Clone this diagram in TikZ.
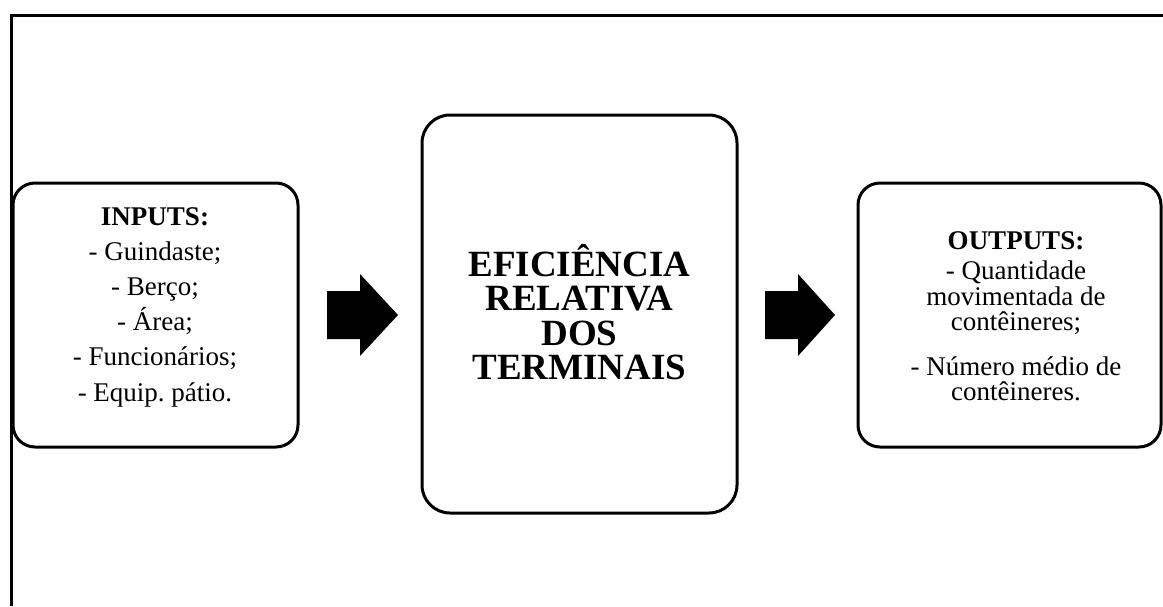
\documentclass[tikz,border=0pt]{standalone}
\usepackage{fontspec}
\setmainfont{Liberation Serif}
\frenchspacing
\begin{document}
\begin{tikzpicture}[x=1pt,y=-1pt,
  box/.style={draw,line width=3pt,rounded corners=22pt,inner sep=0pt},
  bigbox/.style={box,rounded corners=28pt},
  blockarrow/.style={fill=black},
  txt/.style={align=center,inner sep=0pt,font=\fontsize{27}{35.2}\selectfont},
  outtxt/.style={align=center,inner sep=0pt,font=\fontsize{27}{25.5}\selectfont},
  bigtxt/.style={align=center,inner sep=0pt,font=\fontsize{37}{34.5}\selectfont\bfseries}]
\useasboundingbox (0,0) rectangle (1163,606);
% frame (top and left only)
\draw[line width=3pt] (11,606) -- (11,15) -- (1163,15);
% boxes
\node[box,minimum width=285pt,minimum height=264pt] (inputs) at (155.5,315) {};
\node[bigbox,minimum width=315pt,minimum height=398pt] (center) at (579.5,314) {};
\node[box,minimum width=303pt,minimum height=264pt] (outputs) at (1009.5,315) {};
% texts
\node[txt] (intext) at (155,307) {\textbf{INPUTS:}\\- Guindaste;\\- Berço;\\- Área;\\- Funcionários;\\- Equip. pátio.};
\node[bigtxt] (ctext) at (579.5,312) {EFICIÊNCIA\\RELATIVA\\DOS\\TERMINAIS};
\node[outtxt] (outtext) at (1016,316) {\textbf{OUTPUTS:}\\[5pt]- Quantidade\\movimentada de\\contêineres;\\[19pt]- Número médio de\\contêineres.};
% block arrows
\fill[blockarrow] (327,291) -- (360,291) -- (360,274) -- (398,315) -- (360,356) -- (360,339) -- (327,339) -- cycle;
\fill[blockarrow] (765,291) -- (798,291) -- (798,274) -- (835,315) -- (798,356) -- (798,339) -- (765,339) -- cycle;
\end{tikzpicture}
\end{document}
